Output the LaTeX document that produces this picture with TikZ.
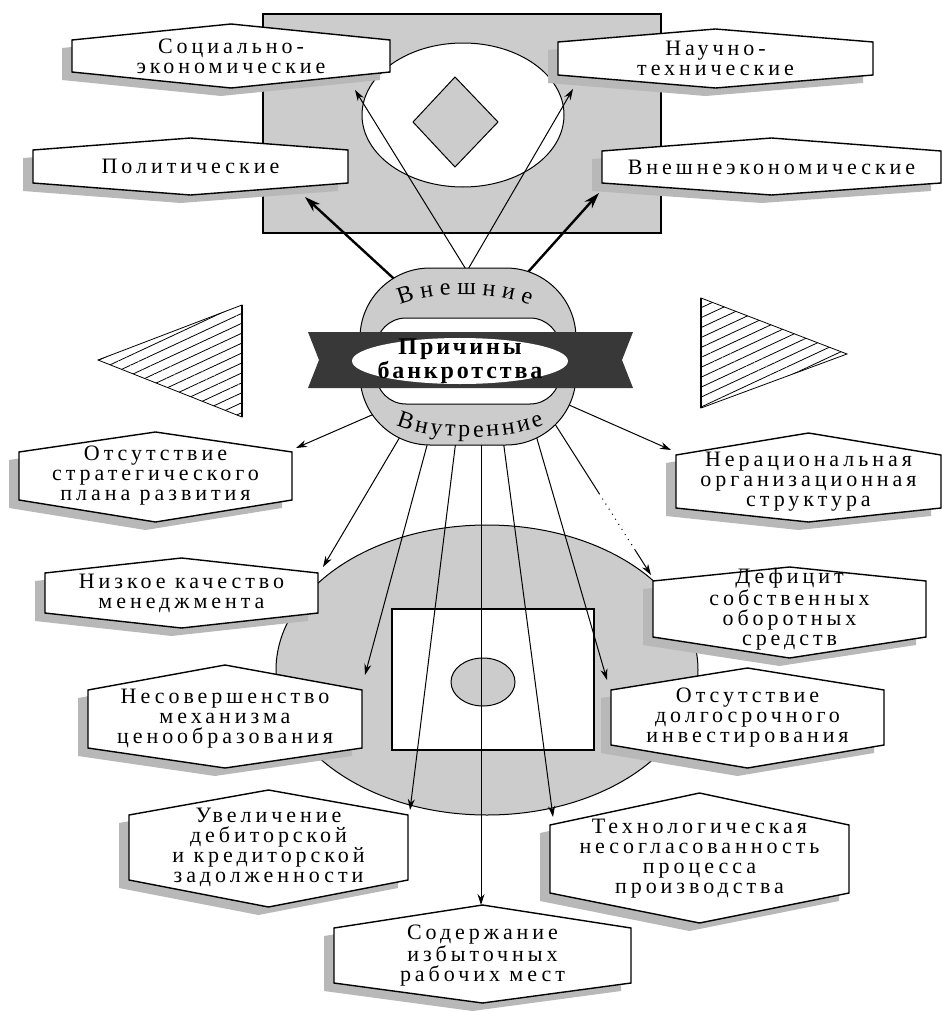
\documentclass[tikz,border=0pt]{standalone}
\usepackage{fontspec}
\setmainfont{Liberation Serif}
\newfontfamily\causefont[LetterSpace=18]{Liberation Serif}
\newfontfamily\titlefont[LetterSpace=12]{Liberation Serif}
\usetikzlibrary{arrows.meta}
\usetikzlibrary{patterns.meta}
\usetikzlibrary{decorations.text}

\definecolor{dotgray}{gray}{0.8}
\definecolor{shadowgray}{gray}{0.72}
\definecolor{ribbongray}{gray}{0.22}

\newcommand{\ringfont}{\fontsize{12}{12}\selectfont}

\tikzset{
  boxline/.style={draw=black, line width=0.7pt, fill=white},
  causetext/.style={align=center, inner sep=0pt,
    font=\causefont\fontsize{11}{10}\selectfont},
  titletext/.style={align=center, inner sep=0pt,
    font=\titlefont\bfseries\fontsize{12}{11}\selectfont},
  thinarrow/.style={-{Stealth[length=5.5pt,width=3.5pt]}, line width=0.5pt},
  thickarrow/.style={-{Stealth[length=8pt,width=5pt]}, line width=1.2pt},
  hatchtri/.style={draw=black, line width=0.4pt,
    pattern={Lines[angle=25,distance=4.5pt,line width=0.4pt]}},
}

% #1 name, #2 left, #3 right, #4/#5 side top/bottom, #6/#7 peak top/bottom, #8 text
\newcommand{\causebox}[8]{%
  \fill[shadowgray, shift={(-10,8)}] (#2,#4) -- ({(#2+#3)/2},#6) -- (#3,#4)
    -- (#3,#5) -- ({(#2+#3)/2},#7) -- (#2,#5) -- cycle;
  \draw[boxline] (#2,#4) -- ({(#2+#3)/2},#6) -- (#3,#4)
    -- (#3,#5) -- ({(#2+#3)/2},#7) -- (#2,#5) -- cycle;
  \node[causetext] (#1) at ({(#2+#3)/2},{(#4+#5)/2}) {#8};
}

\begin{document}
\begin{tikzpicture}[x=0.5pt, y=-0.5pt]
\useasboundingbox (0,0) rectangle (942,1012);

% upper block
\draw[fill=dotgray, line width=0.6pt] (263,14) rectangle (661,233);
\draw[fill=white, line width=0.5pt] (463,115) ellipse [x radius=101, y radius=72];
\draw[fill=dotgray, line width=0.5pt] (413,122) -- (455,77) -- (498,122) -- (455,167) -- cycle;

% lower block
\draw[fill=dotgray, line width=0.5pt] (487,670) ellipse [x radius=211, y radius=145];
\draw[fill=white, line width=0.6pt] (392,609) rectangle (594,750);
\draw[fill=dotgray, line width=0.5pt] (483,682) ellipse [x radius=32, y radius=24];

% side triangles
\draw[hatchtri] (98,360) -- (242,305) -- (242,417) -- cycle;
\draw[line width=1.2pt] (242,305) -- (242,417);
\draw[hatchtri] (847,354) -- (701,298) -- (701,408) -- cycle;
\draw[line width=1.2pt] (701,298) -- (701,408);

% external causes
\causebox{soc}{72}{390}{40}{72}{24}{88}{Социально-\\экономические}
\causebox{nauch}{558}{873}{42}{75}{29}{88}{Научно-\\технические}
\causebox{polit}{33}{348}{150}{183}{138}{195}{Политические}
\causebox{vneshek}{602}{941}{151}{183}{138}{195}{Внешнеэкономические}

% internal causes
\causebox{strateg}{19}{292}{452}{500}{432}{522}{Отсутствие\\стратегического\\плана развития}
\causebox{neracion}{676}{941}{455}{508}{433}{522}{Нерациональная\\организационная\\структура}
\causebox{menedzh}{45}{318}{573}{613}{558}{628}{Низкое качество\\менеджмента}
\causebox{deficit}{653}{926}{581}{637}{567}{658}{Дефицит\\собственных\\оборотных\\средств}
\causebox{nesover}{88}{362}{690}{748}{665}{768}{Несовершенство\\механизма\\ценообразования}
\causebox{dolgosr}{611}{884}{690}{745}{668}{768}{Отсутствие\\долгосрочного\\инвестирования}
\causebox{uvelich}{129}{408}{815}{880}{790}{907}{Увеличение\\дебиторской\\и кредиторской\\задолженности}
\causebox{tehnol}{550}{849}{825}{893}{793}{923}{Технологическая\\несогласованность\\процесса\\производства}
\causebox{soderzh}{334}{631}{928}{983}{905}{1003}{Содержание\\избыточных\\рабочих мест}

% arrow ends
\coordinate (s-top) at (467,271);
\coordinate (s-polit) at (404,288);
\coordinate (s-vneshek) at (520,281);
\coordinate (t-soc) at (355,90);
\coordinate (t-nauch) at (573,89);
\coordinate (t-polit) at (305,197);
\coordinate (t-vneshek) at (599,193);
\coordinate (s-strateg) at (381,411);
\coordinate (t-strateg) at (296,448);
\coordinate (s-menedzh) at (407,425);
\coordinate (t-menedzh) at (323,567);
\coordinate (s-nesover) at (429,438);
\coordinate (t-nesover) at (365,675);
\coordinate (s-uvelich) at (456,440);
\coordinate (t-uvelich) at (410,810);
\coordinate (s-soderzh) at (481,440);
\coordinate (t-soderzh) at (481,905);
\coordinate (s-tehnol) at (503,439);
\coordinate (t-tehnol) at (553,817);
\coordinate (s-dolgosr) at (533,425);
\coordinate (t-dolgosr) at (607,680);
\coordinate (s-deficit) at (546,410);
\coordinate (t-deficit) at (651,575);
\coordinate (s-neracion) at (560,401);
\coordinate (t-neracion) at (671,450);

\draw[thinarrow] (s-top) -- (t-soc);
\draw[thinarrow] (s-top) -- (t-nauch);
\draw[thickarrow] (s-polit) -- (t-polit);
\draw[thickarrow] (s-vneshek) -- (t-vneshek);
\foreach \n in {strateg,menedzh,nesover,uvelich,soderzh,tehnol,dolgosr,neracion}
  \draw[thinarrow] (s-\n) -- (t-\n);
\draw[thinarrow, dash pattern=on 50pt off 2.5pt on 0.5pt off 2.5pt on 0.5pt off 2.5pt
  on 0.5pt off 2.5pt on 0.5pt off 2.5pt on 0.5pt off 2.5pt on 0.5pt off 2.5pt
  on 0.5pt off 2.5pt on 0.5pt off 2.5pt on 0.5pt off 2.5pt on 0.5pt off 2.5pt
  on 30pt off 0pt] (s-deficit) -- (t-deficit);

% ring
\path[draw=black, line width=0.5pt, fill=dotgray, even odd rule]
  [rounded corners=35pt] (360,268) rectangle (576,445)
  [rounded corners=15pt] (376,318) rectangle (560,404);
\path[decorate, decoration={text along path, text=|\ringfont|Внешние,
  text align=fit to path}] (400,305) .. controls (433,291) and (497,291) .. (530,305);
\path[decorate, decoration={text along path, text=|\ringfont|Внутренние,
  text align=fit to path}] (396,425) .. controls (433,441) and (507,441) .. (544,425);

% ribbon
\fill[ribbongray] (308,332) -- (633,332) -- (622,360) -- (633,388)
  -- (308,388) -- (319,360) -- cycle;
\fill[white] (460,361) ellipse [x radius=108, y radius=23];
\node[titletext] (title) at (460,361) {Причины\\банкротства};
\end{tikzpicture}
\end{document}
